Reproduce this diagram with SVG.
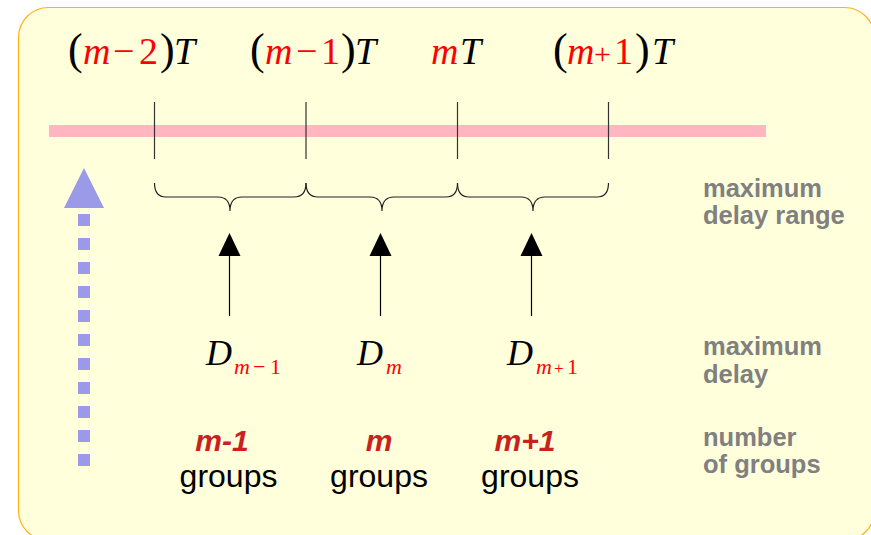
<svg xmlns="http://www.w3.org/2000/svg" width="871" height="535" viewBox="0 0 871 535">
<style>
.math{font-family:"Liberation Serif",serif;font-size:38px}
.it{font-style:italic}
.red{fill:#ff0000}
.par{font-size:44px}
.sub{font-size:22px}
.tick{stroke:#333333;stroke-width:1.2}
.brace{fill:none;stroke:#222222;stroke-width:1.2}
.conn{stroke:#000000;stroke-width:1.2}
.head{fill:#000000}
.num{font-family:"Liberation Sans",sans-serif;font-size:30px;font-weight:bold;font-style:italic;fill:#c9211e;text-anchor:middle}
.grp{font-family:"Liberation Sans",sans-serif;font-size:32px;fill:#000000;text-anchor:middle}
.gray{font-family:"Liberation Sans",sans-serif;font-size:25.5px;font-weight:bold;fill:#808080}
</style>
<rect width="871" height="535" fill="#ffffff"/>
<rect id="frame" x="18.5" y="7.5" width="856" height="533" rx="30" ry="30" fill="#ffffdc" stroke="#ffb21a" stroke-width="1.2"/>

<g id="axis">
<rect x="49" y="125" width="717" height="12" fill="#ffb6c1"/>
<line class="tick" x1="154.5" y1="102" x2="154.5" y2="159"/>
<line class="tick" x1="306" y1="102" x2="306" y2="159"/>
<line class="tick" x1="457.5" y1="102" x2="457.5" y2="159"/>
<line class="tick" x1="608.5" y1="102" x2="608.5" y2="159"/>
</g>

<g id="time-labels" class="math">
<text id="t-m2" y="64"><tspan class="par" x="68">(</tspan><tspan class="it red" x="83">m</tspan><tspan class="red" x="113">−</tspan><tspan class="red" x="139">2</tspan><tspan class="par" x="160">)</tspan><tspan class="it" x="174">T</tspan></text>
<text id="t-m1" y="64"><tspan class="par" x="250">(</tspan><tspan class="it red" x="265">m</tspan><tspan class="red" x="296">−</tspan><tspan class="red" x="321">1</tspan><tspan class="par" x="341">)</tspan><tspan class="it" x="355">T</tspan></text>
<text id="t-m" y="64"><tspan class="it red" x="431">m</tspan><tspan class="it" x="460">T</tspan></text>
<text id="t-p1" y="64"><tspan class="par" x="553">(</tspan><tspan class="it red" x="567">m</tspan><tspan class="red" x="594" font-size="30">+</tspan><tspan class="red" x="614">1</tspan><tspan class="par" x="635">)</tspan><tspan class="it" x="652">T</tspan></text>
</g>

<g id="braces">
<path class="brace" d="M154.5,183 Q154.5,197 166,197 L218,197 Q230,197 230,211 Q230,197 242,197 L294,197 Q306,197 306,183"/>
<path class="brace" d="M306,183 Q306,197 318,197 L370,197 Q382,197 382,211 Q382,197 394,197 L446,197 Q457.5,197 457.5,183"/>
<path class="brace" d="M457.5,183 Q457.5,197 469,197 L521,197 Q533,197 533,211 Q533,197 545,197 L597,197 Q608.5,197 608.5,183"/>
</g>

<g id="connectors">
<line class="conn" x1="229.5" y1="254" x2="229.5" y2="316"/>
<polygon class="head" points="229.5,233 218.5,256 240.5,256"/>
<line class="conn" x1="380.5" y1="254" x2="380.5" y2="316"/>
<polygon class="head" points="380.5,233 369.5,256 391.5,256"/>
<line class="conn" x1="531.5" y1="254" x2="531.5" y2="316"/>
<polygon class="head" points="531.5,233 520.5,256 542.5,256"/>
<line x1="84" y1="214" x2="84" y2="467" stroke="#9a9ae8" stroke-width="12" stroke-dasharray="12 12"/>
<polygon points="84,168 64,208 104,208" fill="#9a9ae8"/>
</g>

<g id="delay-labels" class="math">
<text id="d-m1" y="365"><tspan class="it" x="206" font-size="36">D</tspan><tspan class="it red sub" x="234" y="374">m</tspan><tspan class="red sub" x="253">−</tspan><tspan class="red sub" x="270">1</tspan></text>
<text id="d-m" y="365"><tspan class="it" x="357" font-size="36">D</tspan><tspan class="it red sub" x="386" y="374">m</tspan></text>
<text id="d-p1" y="365"><tspan class="it" x="507" font-size="36">D</tspan><tspan class="it red sub" x="536" y="374">m</tspan><tspan class="red" x="554" font-size="17">+</tspan><tspan class="red sub" x="567">1</tspan></text>
</g>

<g id="group-labels">
<g id="g-m1"><text class="num" x="222" y="451">m-1</text><text class="grp" x="228.5" y="487">groups</text></g>
<g id="g-m"><text class="num" x="379" y="451">m</text><text class="grp" x="379" y="487">groups</text></g>
<g id="g-p1"><text class="num" x="525" y="451">m+1</text><text class="grp" x="530" y="487">groups</text></g>
</g>

<g id="legend" class="gray">
<text x="703" y="197">maximum</text>
<text x="703" y="224">delay range</text>
<text x="703" y="355">maximum</text>
<text x="703" y="383">delay</text>
<text x="703" y="446">number</text>
<text x="703" y="473">of groups</text>
</g>
</svg>
